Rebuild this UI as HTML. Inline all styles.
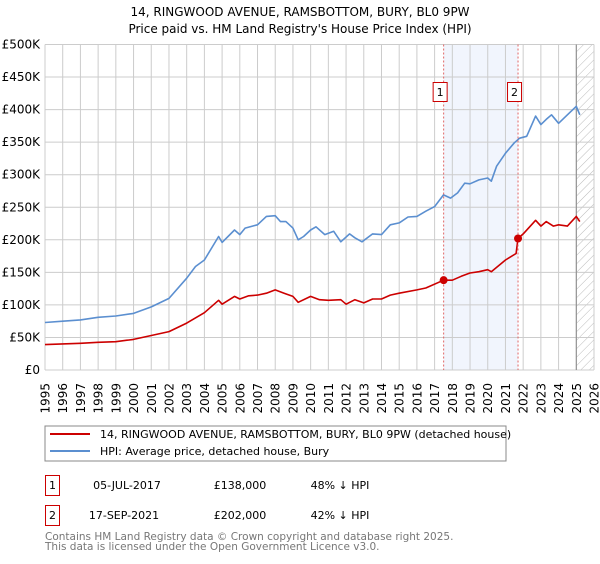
<!DOCTYPE html>
<html><head><meta charset="utf-8"><style>
body{margin:0;background:#fff;font-family:"DejaVu Sans","Liberation Sans",sans-serif;}
svg text{font-family:"DejaVu Sans","Liberation Sans",sans-serif;}
</style></head><body>
<svg id="chart" width="600" height="560" xmlns="http://www.w3.org/2000/svg">
<defs><pattern id="hatch" width="6" height="6" patternUnits="userSpaceOnUse" patternTransform="rotate(45)"><line x1="0" y1="0" x2="0" y2="6" stroke="#bbb" stroke-width="1"/></pattern></defs>
<text x="300" y="16" text-anchor="middle" font-size="12">14, RINGWOOD AVENUE, RAMSBOTTOM, BURY, BL0 9PW</text>
<text x="300" y="33" text-anchor="middle" font-size="12">Price paid vs. HM Land Registry's House Price Index (HPI)</text>
<g id="grid"></g><g id="marks"></g><g id="axes"></g>
<rect x="45" y="426" width="461" height="35" fill="#fff" stroke="#888"/>
<line x1="50" y1="434" x2="90" y2="434" stroke="#cc0000" stroke-width="2"/>
<text x="100" y="438" font-size="11">14, RINGWOOD AVENUE, RAMSBOTTOM, BURY, BL0 9PW (detached house)</text>
<line x1="50" y1="451" x2="90" y2="451" stroke="#5b8fd0" stroke-width="2"/>
<text x="100" y="455" font-size="11">HPI: Average price, detached house, Bury</text>
<g>
<rect x="45.5" y="475.5" width="14" height="20" fill="none" stroke="#cc0000"/><text x="52.5" y="489" text-anchor="middle" font-size="11">1</text>
<text x="127" y="489" text-anchor="middle" font-size="11">05-JUL-2017</text><text x="240" y="489" text-anchor="middle" font-size="11">£138,000</text><text x="340" y="489" text-anchor="middle" font-size="11">48% ↓ HPI</text></g>
<g>
<rect x="45.5" y="505.5" width="14" height="20" fill="none" stroke="#cc0000"/><text x="52.5" y="519" text-anchor="middle" font-size="11">2</text>
<text x="124" y="519" text-anchor="middle" font-size="11">17-SEP-2021</text><text x="240" y="519" text-anchor="middle" font-size="11">£202,000</text><text x="340" y="519" text-anchor="middle" font-size="11">42% ↓ HPI</text></g>
<text x="45" y="540" font-size="10.5" fill="#777">Contains HM Land Registry data © Crown copyright and database right 2025.</text>
<text x="45" y="550" font-size="10.5" fill="#777">This data is licensed under the Open Government Licence v3.0.</text>
</svg>
<script>
const yTicks=[0,50,100,150,200,250,300,350,400,450,500];
const yTickLabels=["£0","£50K","£100K","£150K","£200K","£250K","£300K","£350K","£400K","£450K","£500K"];
const years=[1995,1996,1997,1998,1999,2000,2001,2002,2003,2004,2005,2006,2007,2008,2009,2010,2011,2012,2013,2014,2015,2016,2017,2018,2019,2020,2021,2022,2023,2024,2025,2026];
const hpiT=[1995,1996,1997,1998,1999,2000,2001,2002,2003,2003.5,2004,2004.8,2005,2005.7,2006,2006.3,2007,2007.5,2008,2008.3,2008.6,2009,2009.3,2009.6,2010,2010.3,2010.8,2011.3,2011.7,2012.2,2012.5,2012.9,2013.5,2014,2014.5,2015,2015.5,2016,2016.5,2017,2017.5,2017.9,2018.3,2018.7,2019,2019.5,2020,2020.2,2020.5,2021,2021.5,2021.8,2022.2,2022.7,2023,2023.3,2023.6,2024,2024.5,2025,2025.2];
const hpiV=[73,75,77,81,83,87,97,110,141,159,169,205,196,215,208,218,223,236,237,228,228,218,200,205,215,220,208,213,197,209,203,197,209,208,223,226,235,236,244,251,269,264,272,287,286,292,295,290,313,333,349,356,359,390,377,385,392,379,392,405,392];
const priceT=[1995,1997,1998,1999,2000,2001,2002,2003,2004,2004.8,2005,2005.7,2006,2006.5,2007,2007.5,2008,2008.5,2009,2009.3,2010,2010.5,2011,2011.7,2012,2012.5,2013,2013.5,2014,2014.5,2015,2016,2016.5,2017.51,2018,2018.5,2019,2019.5,2020,2020.2,2021,2021.6,2021.71,2022,2022.7,2023,2023.3,2023.7,2024,2024.5,2025,2025.2];
const priceV=[39,41,42.5,43.5,47,53,59,72,88,107,101,113,109,114,115,118,123,118,113,104,113,108,107,108,101,108,103,109,109,115,118,123,126,138,138,144,149,151,154,151,169,179,202,209,230,221,228,221,223,221,236,228];
const saleT=[2017.51,2021.71];
const saleV=[138,202];
const saleLabels=["1","2"];
const X=t=>45+(t-1995)*(549/31);
const Y=v=>370-v*(325.5/500);
const NS="http://www.w3.org/2000/svg";
function mk(p,tag,at){const e=document.createElementNS(NS,tag);for(const k in at)e.setAttribute(k,at[k]);p.appendChild(e);return e;}
const grid=document.getElementById('grid'),marks=document.getElementById('marks'),axes=document.getElementById('axes');
const sh=mk(grid,'rect',{x:X(saleT[0]),y:Y(500),width:X(saleT[1])-X(saleT[0]),height:Y(0)-Y(500),fill:'#eef3fd',opacity:0.8});


const ht=mk(grid,'rect',{x:X(2025),y:Y(500),width:X(2026)-X(2025),height:Y(0)-Y(500),fill:'url(#hatch)'});


yTicks.forEach((v,i)=>{
 const l=mk(grid,'line',{x1:45,x2:X(2026),y1:Y(v),y2:Y(v),stroke:'#ccc'});
 
 
 const t=mk(axes,'text',{x:40,y:Y(v)+4,'text-anchor':'end','font-size':12});
 
 
 t.textContent=yTickLabels[i];
});
years.forEach(y=>{
 const l=mk(grid,'line',{x1:X(y),x2:X(y),y1:Y(500),y2:Y(0),stroke:'#ccc'});
 
 
 const t=mk(axes,'text',{x:0,y:0,'text-anchor':'end','font-size':12,transform:`translate(${X(y)+4.5},383) rotate(-90)`});
 
 
 t.textContent=y;
});
const nl=mk(grid,'line',{x1:X(2025),x2:X(2025),y1:Y(500),y2:Y(0),stroke:'#888','stroke-width':1});


function path(ts,vs,col,name){
 const d=ts.map((t,i)=>(i?'L':'M')+X(t).toFixed(1)+','+Y(vs[i]).toFixed(1)).join('');
 const p=mk(marks,'path',{d:d,fill:'none',stroke:col,'stroke-width':1.6,'stroke-linejoin':'round'});
 
 
}
path(hpiT,hpiV,'#5b8fd0','hpi-line');
path(priceT,priceV,'#cc0000','price-line');
saleT.forEach((t,i)=>{
 const l=mk(marks,'line',{x1:X(t),x2:X(t),y1:Y(500),y2:Y(0),stroke:'#e06666','stroke-dasharray':'2,2'});
 
 
 const c=mk(marks,'circle',{cx:X(t),cy:Y(saleV[i]),r:4,fill:'#cc0000'});
 
 
 const b=mk(marks,'rect',{x:X(t)-10.5,y:82.5,width:14,height:19,fill:'#fff',stroke:'#cc0000'});
 
 
 const tx=mk(marks,'text',{x:X(t)-3.5,y:96,'text-anchor':'middle','font-size':11});
 
 
 tx.textContent=saleLabels[i];
});
</script>
</body></html>
